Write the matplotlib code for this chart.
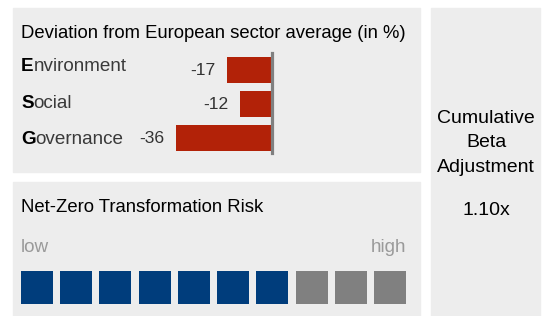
import matplotlib.pyplot as plt
from matplotlib.patches import Rectangle

# data
categories = ["Environment", "Social", "Governance"]
deviation = [-17, -12, -36]
risk_level = 7
n_levels = 10
beta_title = ["Cumulative", "Beta", "Adjustment"]
beta_adjustment = "1.10x"

W, H = 549, 316
PANEL = "#ededed"
RED = "#b22208"
BLUE = "#003d7c"
GREY = "#808080"

plt.rcParams["font.family"] = ["Liberation Sans", "DejaVu Sans"]

fig = plt.figure(figsize=(W / 100, H / 100), dpi=100)
fig.patch.set_facecolor("white")


def frac(x0, y0, x1, y1):
    # pixel box (top-left origin) -> figure fraction rect
    return [x0 / W, 1 - y1 / H, (x1 - x0) / W, (y1 - y0) / H]


# background panels
bg = fig.add_axes([0, 0, 1, 1])
bg.set_xlim(0, W)
bg.set_ylim(H, 0)
bg.axis("off")
for x0, y0, x1, y1 in [(13, 8, 420, 172), (13, 182, 420, 316), (431, 8, 540, 316)]:
    bg.add_patch(Rectangle((x0, y0), x1 - x0, y1 - y0, color=PANEL, zorder=0))

bg.text(21, 38.5, "Deviation from European sector average (in %)", fontsize=13.3,
        va="baseline", ha="left", color="black")

# ESG deviation bars
ax = fig.add_axes(frac(140, 53, 272, 153))
ypos = list(range(len(categories)))
ax.barh(ypos, deviation, height=0.76, color=RED, zorder=2)
ax.axvline(0, color=GREY, lw=2.3, zorder=3, clip_on=False)
ax.set_xlim(-132 / 2.67, 0)
ax.set_ylim(2.44, -0.5)
ax.axis("off")
for y, v in zip(ypos, deviation):
    ax.annotate(f"{v}", xy=(v, y), xytext=(-8, -3.8), textcoords="offset points",
                ha="right", va="baseline", fontsize=12.6, color="#333333")

# category labels with bold initial
label_base = [71, 107.5, 144.5]
for name, y in zip(categories, label_base):
    first = bg.text(21, y, name[0], fontsize=13.6, fontweight="bold",
                    va="baseline", ha="left", color="black")
    bg.annotate(name[1:], xy=(1, 0), xycoords=first, va="bottom", ha="left",
                fontsize=13.6, color="#3a3a3a")

# net-zero transformation risk
bg.text(21, 212.5, "Net-Zero Transformation Risk", fontsize=13.3,
        va="baseline", ha="left", color="black")
bg.text(21, 252.5, "low", fontsize=13.6, va="baseline", ha="left", color="#9a9a9a")
bg.text(406, 252.5, "high", fontsize=13.6, va="baseline", ha="right", color="#9a9a9a")

rx = fig.add_axes(frac(21, 271, 406, 304))
levels = list(range(n_levels))
colors = [BLUE if i < risk_level else GREY for i in levels]
rx.bar(levels, [1] * n_levels, width=0.81, color=colors)
rx.set_xlim(-0.405, n_levels - 1 + 0.405)
rx.set_ylim(0, 1)
rx.axis("off")

# cumulative beta adjustment
for i, line in enumerate(beta_title):
    bg.text(486, 123 + i * 24.4, line, fontsize=14, ha="center",
            va="baseline", color="black")
bg.text(486, 215, beta_adjustment, fontsize=14, ha="center", va="baseline",
        color="black")

fig.savefig("out.png", dpi=100, facecolor="white")
